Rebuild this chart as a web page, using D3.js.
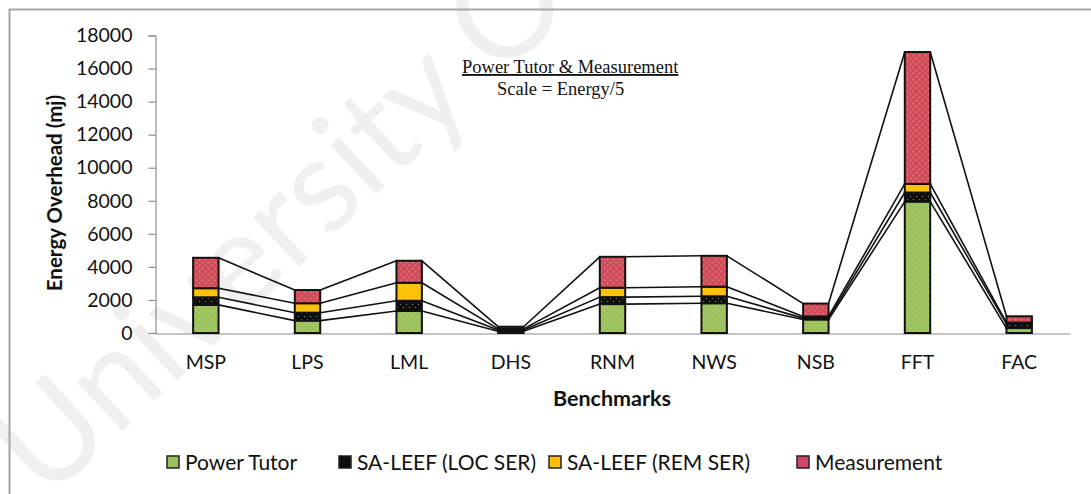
<!DOCTYPE html>
<html>
<head>
<meta charset="utf-8">
<script src="https://cdn.jsdelivr.net/npm/d3@7"></script>
<style>
  html, body { margin: 0; padding: 0; background: #fff; }
  svg { display: block; }
</style>
</head>
<body>
<svg id="chart" width="1091" height="494"></svg>
<script>
// Benchmarks on the x axis
const categories = ["MSP", "LPS", "LML", "DHS", "RNM", "NWS", "NSB", "FFT", "FAC"];

// Stacked energy components (mJ), bottom to top
const powerTutor  = [1700,  750, 1330, 100, 1750, 1800, 820, 7950, 300];
const saLeefLoc   = [ 460,  480,  620,  80,  420,  420,  80,  550, 250];
const saLeefRem   = [ 550,  570, 1090,  70,  570,  580, 100,  520,  80];
const measurement = [1840,  800, 1330, 130, 1870, 1870, 780, 7980, 380];

const seriesNames = ["Power Tutor", "SA-LEEF (LOC SER)", "SA-LEEF (REM SER)", "Measurement"];
const yTicks = [0, 2000, 4000, 6000, 8000, 10000, 12000, 14000, 16000, 18000];

const svg = d3.select("#chart");
const SANS = "Lato, 'Open Sans', sans-serif";
const SERIF = "'Liberation Serif', 'DejaVu Serif', serif";

// Patterned fills
const defs = svg.append("defs");
function dotPattern(id, base, dot, r) {
  const p = defs.append("pattern").attr("id", id)
    .attr("width", 6).attr("height", 6).attr("patternUnits", "userSpaceOnUse");
  p.append("rect").attr("width", 6).attr("height", 6).attr("fill", base);
  p.append("circle").attr("cx", 1.5).attr("cy", 1.5).attr("r", r).attr("fill", dot);
  p.append("circle").attr("cx", 4.5).attr("cy", 4.5).attr("r", r).attr("fill", dot);
}
dotPattern("pGreen", "#9cc05b", "#b2d27a", 0.9);
dotPattern("pBlack", "#0d0d0d", "#7a7a7a", 0.7);
dotPattern("pYellow", "#ffc000", "#ffd24a", 0.8);
dotPattern("pRed", "#d04c58", "#e07a82", 0.9);
const fills = ["url(#pGreen)", "url(#pBlack)", "url(#pYellow)", "url(#pRed)"];
const legendFills = ["#9cc05b", "#0d0d0d", "#ffc000", "#d2456a"];

// Watermark in the background
svg.append("text")
  .attr("transform", "translate(46,502) rotate(-43)")
  .attr("font-family", SANS)
  .attr("font-size", 132)
  .attr("fill", "#f0f0f0")
  .text("University Of Malaya");

// Outer frame
svg.append("rect")
  .attr("x", 9.5).attr("y", 9.5).attr("width", 1100).attr("height", 500)
  .attr("fill", "none").attr("stroke", "#a6a6a6").attr("stroke-width", 2);

// Scales
const x = d3.scaleBand().domain(categories).range([155, 1070])
  .paddingInner(0.75).paddingOuter(0.375);
const y = d3.scaleLinear().domain([0, 18000]).range([333, 35.5]);

// Stack data
const table = categories.map((c, i) => ({
  cat: c, s0: powerTutor[i], s1: saLeefLoc[i], s2: saLeefRem[i], s3: measurement[i]
}));
const stack = d3.stack().keys(["s0", "s1", "s2", "s3"])(table);

// Y axis
const yAxis = d3.axisLeft(y).tickValues(yTicks).tickSize(7).tickPadding(16)
  .tickFormat(d3.format("d"));
const gy = svg.append("g").attr("transform", "translate(155.5,0)").call(yAxis);
gy.select(".domain").attr("stroke", "#8c8c8c").attr("stroke-width", 1.2);
gy.selectAll(".tick line").attr("stroke", "#8c8c8c").attr("stroke-width", 1.2);
gy.selectAll(".tick text")
  .attr("font-family", SANS).attr("font-size", 19.5).attr("fill", "#111");

// X axis
const xAxis = d3.axisBottom(x).tickSize(0).tickPadding(22);
const gx = svg.append("g").attr("transform", "translate(0,333.5)").call(xAxis);
gx.select(".domain").attr("stroke", "#8c8c8c").attr("stroke-width", 1.2);
gx.selectAll(".tick text")
  .attr("font-family", SANS).attr("font-size", 19.5).attr("fill", "#111");

// Series lines connecting the stack levels between neighbouring bars
const bw = x.bandwidth();
stack.forEach(layer => {
  for (let i = 0; i < categories.length - 1; i++) {
    svg.append("line")
      .attr("x1", x(categories[i]) + bw).attr("y1", y(layer[i][1]))
      .attr("x2", x(categories[i + 1])).attr("y2", y(layer[i + 1][1]))
      .attr("stroke", "#111").attr("stroke-width", 1.6);
  }
});

// Stacked bars
stack.forEach((layer, k) => {
  svg.append("g").selectAll("rect").data(layer).join("rect")
    .attr("x", d => x(d.data.cat))
    .attr("y", d => y(d[1]))
    .attr("width", bw)
    .attr("height", d => y(d[0]) - y(d[1]))
    .attr("fill", fills[k])
    .attr("stroke", "#111").attr("stroke-width", 2);
});

// Axis titles
svg.append("text")
  .attr("x", 612).attr("y", 406).attr("text-anchor", "middle")
  .attr("font-family", SANS)
  .attr("font-weight", "bold").attr("font-size", 21.5).attr("fill", "#111")
  .text("Benchmarks");
svg.append("text")
  .attr("transform", "translate(62,193) rotate(-90)")
  .attr("text-anchor", "middle")
  .attr("font-family", SANS)
  .attr("font-weight", "bold").attr("font-size", 20.5).attr("fill", "#111")
  .text("Energy Overhead (mj)");

// Annotation
svg.append("text")
  .attr("x", 462).attr("y", 73)
  .attr("font-family", SERIF)
  .attr("font-size", 18.5).attr("fill", "#111")
  .attr("text-decoration", "underline")
  .text("Power Tutor & Measurement");
svg.append("text")
  .attr("x", 497).attr("y", 95)
  .attr("font-family", SERIF)
  .attr("font-size", 18.5).attr("fill", "#111")
  .text("Scale = Energy/5");

// Legend
const legendX = [167, 339, 549, 797];
const lg = svg.append("g");
seriesNames.forEach((name, k) => {
  lg.append("rect")
    .attr("x", legendX[k]).attr("y", 456).attr("width", 12).attr("height", 12)
    .attr("fill", legendFills[k]).attr("stroke", "#222").attr("stroke-width", 1.5);
  lg.append("text")
    .attr("x", legendX[k] + 18).attr("y", 470)
    .attr("font-family", SANS)
    .attr("font-size", 21).attr("fill", "#111")
    .text(name);
});
</script>
</body>
</html>
